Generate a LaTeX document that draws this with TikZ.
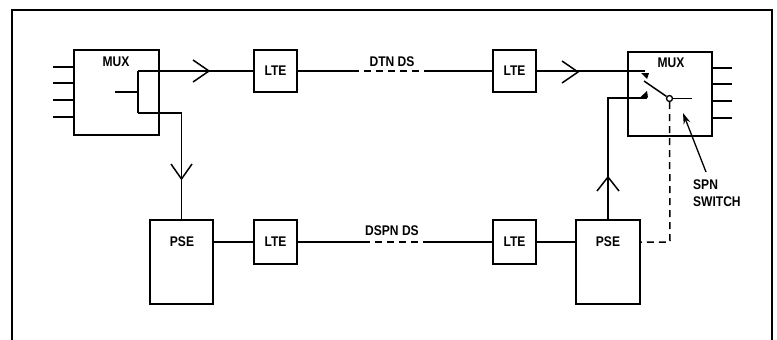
\documentclass[tikz,border=0pt]{standalone}
\usepackage{fontspec}
\setmainfont{Liberation Sans}[FakeStretch=0.86]
\usetikzlibrary{arrows.meta}
\begin{document}
\begin{tikzpicture}[x=1pt,y=-1pt,
  box/.style={draw,line width=1.7pt,inner sep=0pt,anchor=center},
  wire/.style={line width=1.5pt},
  dwire/.style={line width=1.5pt,dash pattern=on 7pt off 5pt},
  lbl/.style={font=\fontsize{14}{16}\selectfont\bfseries,inner sep=0pt},
  chev/.style={line width=1.5pt}]
\useasboundingbox (0,0) rectangle (777,340);
% frame
\draw[line width=2pt] (12,340) -- (12,10) -- (772,10) -- (772,340);
% boxes
\node[box,minimum width=85pt,minimum height=85pt] (mux1) at (116.5,92.5) {};
\node[box,minimum width=84pt,minimum height=84pt] (mux2) at (670,94) {};
\node[box,minimum width=43pt,minimum height=42pt] (lte1) at (275.5,71) {};
\node[box,minimum width=43pt,minimum height=42pt] (lte2) at (514.5,71) {};
\node[box,minimum width=43pt,minimum height=44pt] (lte3) at (275.5,242) {};
\node[box,minimum width=43pt,minimum height=44pt] (lte4) at (514.5,242) {};
\node[box,minimum width=63pt,minimum height=84pt] (pse1) at (181.5,262) {};
\node[box,minimum width=64pt,minimum height=84pt] (pse2) at (608,262) {};
% labels
\node[lbl] (tmux1) at (116,62) {MUX};
\node[lbl] (tmux2) at (671,63) {MUX};
\node[lbl] (tlte1) at (lte1) {LTE};
\node[lbl] (tlte2) at (lte2) {LTE};
\node[lbl] (tlte3) at (lte3) {LTE};
\node[lbl] (tlte4) at (lte4) {LTE};
\node[lbl] (tpse1) at (182,242) {PSE};
\node[lbl] (tpse2) at (608,242) {PSE};
\node[lbl] (tdtn) at (392,62) {DTN DS};
\node[lbl] (tdspn) at (392,231) {DSPN DS};
\node[lbl,anchor=west] (tspn) at (693,185) {SPN};
\node[lbl,anchor=west] (tsw) at (693,202) {SWITCH};
% mux1 inputs
\foreach \y in {67,83,100,117} \draw[wire] (53,\y) -- (mux1.west |- 0,\y);
% mux2 outputs
\foreach \y in {68,84,101,118} \draw[wire] (mux2.east |- 0,\y) -- (732,\y);
% mux1 internal bracket
\coordinate (bt) at (138,71);
\coordinate (bb) at (138,113);
\draw[wire] (115,92) -- (138,92);
\draw[wire] (bt) -- (bb);
\draw[wire] (bt) -- (lte1.west);
\draw[chev] (193,60) -- (209,71) -- (193,82);
\draw[wire] (bb) -| (pse1.north);
\draw[chev] (171,164) -- (181.5,179) -- (192,164);
% top line
\coordinate (d1) at (352,71);
\coordinate (d2) at (430,71);
\draw[wire] (lte1.east) -- (d1);
\draw[dwire] (d1) -- (d2);
\draw[wire] (d2) -- (lte2.west);
\coordinate (uc) at (645,72);
\draw[wire] (lte2.east) -- (lte2.east -| uc);
\draw[chev] (562,61) -- (578,72) -- (562,83);
% switch
\fill (641,73) -- (649,73) -- (647,79) -- cycle;
\coordinate (lc) at (647,98);
\draw[wire] (pse2.north) |- (lc);
\fill (640,97.5) -- (648,97.5) -- (647,91) -- cycle;
\draw[chev] (597,191) -- (608,177) -- (619,191);
\node[draw,circle,line width=1.3pt,minimum size=6pt,inner sep=0pt,fill=white] (piv) at (669.5,98.5) {};
\draw[wire] (644,81) -- (piv);
\draw[wire] (piv) -- (692,98.5);
\coordinate (dc) at (670,242);
\draw[dwire] (piv.south) -- (dc) -- (pse2.east |- dc);
\draw[line width=1.3pt,-{Stealth[length=11pt,width=7pt]}] (706,172) -- (683,113);
% bottom line
\coordinate (e1) at (363,242);
\coordinate (e2) at (425,242);
\draw[wire] (pse1.east |- lte3) -- (lte3.west);
\draw[wire] (lte3.east) -- (e1);
\draw[dwire] (e1) -- (e2);
\draw[wire] (e2) -- (lte4.west);
\draw[wire] (lte4.east) -- (pse2.west |- lte4);
\end{tikzpicture}
\end{document}
